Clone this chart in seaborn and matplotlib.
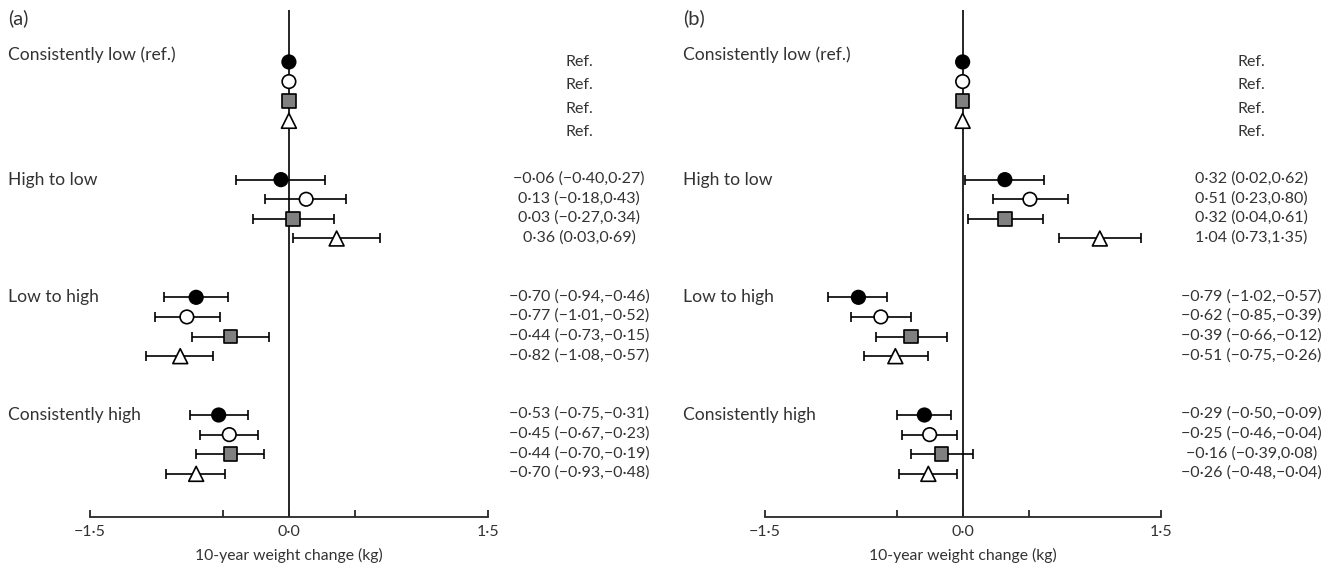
import numpy as np
import pandas as pd
import matplotlib
matplotlib.use("Agg")
import matplotlib.pyplot as plt
import seaborn as sns

# ---------------- data ----------------
groups = ["Consistently low (ref.)", "High to low", "Low to high", "Consistently high"]
series = ["S1", "S2", "S3", "S4"]   # filled circle, open circle, grey square, open triangle

# panel (a): estimate, lower CI, upper CI  (rows: group x series); first group is reference
a_est = [[0, 0, 0, 0], [-0.06, 0.13, 0.03, 0.36], [-0.70, -0.77, -0.44, -0.82], [-0.53, -0.45, -0.44, -0.70]]
a_lo = [[0, 0, 0, 0], [-0.40, -0.18, -0.27, 0.03], [-0.94, -1.01, -0.73, -1.08], [-0.75, -0.67, -0.70, -0.93]]
a_hi = [[0, 0, 0, 0], [0.27, 0.43, 0.34, 0.69], [-0.46, -0.52, -0.15, -0.57], [-0.31, -0.23, -0.19, -0.48]]

# panel (b)
b_est = [[0, 0, 0, 0], [0.32, 0.51, 0.32, 1.04], [-0.79, -0.62, -0.39, -0.51], [-0.29, -0.25, -0.16, -0.26]]
b_lo = [[0, 0, 0, 0], [0.02, 0.23, 0.04, 0.73], [-1.02, -0.85, -0.66, -0.75], [-0.50, -0.46, -0.39, -0.48]]
b_hi = [[0, 0, 0, 0], [0.62, 0.80, 0.61, 1.35], [-0.57, -0.39, -0.12, -0.26], [-0.09, -0.04, 0.08, -0.04]]

panel_labels = ["(a)", "(b)"]
tick_values = [-1.5, -0.5, 0.0, 0.5, 1.5]
tick_labels = ["\u22121\u00b75", "", "0\u00b70", "", "1\u00b75"]
x_label = "10-year weight change (kg)"

# ---------------- style ----------------
sns.set_theme(style="white")
plt.rcParams["font.family"] = ["Lato", "DejaVu Sans"]
TXT = "#333333"
LINE = "#262626"

markers = {"S1": "o", "S2": "o", "S3": "s", "S4": "^"}
palette = {"S1": "black", "S2": "white", "S3": "#808080", "S4": "white"}
sizes = {"S1": 95, "S2": 95, "S3": 95, "S4": 115}


def fmt(v):
    return f"{v:.2f}".replace(".", "\u00b7").replace("-", "\u2212")


fig = plt.figure(figsize=(13.32, 5.70), dpi=100)
axes_pos = [[0.0, 0.093, 0.4955, 0.8895], [0.5068, 0.093, 0.4932, 0.8895]]

for p, (est, lo, hi) in enumerate([(a_est, a_lo, a_hi), (b_est, b_lo, b_hi)]):
    ax = fig.add_axes(axes_pos[p])
    rows = []
    for g in range(len(groups)):
        for i, s in enumerate(series):
            rows.append({"group": g, "series": s, "row": 6 * g + i,
                         "est": est[g][i], "lo": lo[g][i], "hi": hi[g][i]})
    df = pd.DataFrame(rows)

    # vertical reference line
    ax.axvline(0, color=LINE, lw=1.4, zorder=1)

    # error bars (not for reference group)
    d = df[df.group > 0]
    ax.errorbar(d.est, d.row, xerr=[d.est - d.lo, d.hi - d.est], fmt="none",
                ecolor="black", elinewidth=1.2, capsize=3.8, capthick=1.2, zorder=2)

    sns.scatterplot(data=df, x="est", y="row", hue="series", style="series",
                    size="series", sizes=sizes,
                    markers=markers, palette=palette, edgecolor="black",
                    linewidth=1.2, legend=False, zorder=3, ax=ax)

    # group labels
    for g, name in enumerate(groups):
        yy = 6 * g - (0.35 if g == 0 else 0.0)
        ax.text(0.012, yy, name, transform=ax.get_yaxis_transform(), ha="left",
                va="center", fontsize=12.6, color=TXT)

    # estimate text column
    for _, r in df.iterrows():
        if r.group == 0:
            txt = "Ref."
            yy = r.row * 1.19
        else:
            txt = f"{fmt(r.est)} ({fmt(r.lo)},{fmt(r.hi)})"
            yy = r.row - 0.05
        ax.text(2.19, yy, txt, ha="center", va="center", fontsize=11.5, color=TXT)

    ax.set_xlim(-2.18, 2.80)
    ax.set_ylim(23.2, -2.65)
    ax.set_xlabel("")
    ax.set_ylabel("")
    ax.set_yticks([])
    for side in ["top", "right", "left"]:
        ax.spines[side].set_visible(False)
    ax.spines["bottom"].set_bounds(-1.5, 1.5)
    ax.spines["bottom"].set_color(LINE)
    ax.spines["bottom"].set_linewidth(1.3)
    ax.set_xticks(tick_values)
    ax.set_xticklabels(tick_labels)
    ax.tick_params(axis="x", direction="in", length=5, width=1.3, color=LINE,
                   pad=6, labelsize=11.5, labelcolor=TXT, bottom=True)
    ax.text(0, -0.075, x_label, transform=ax.get_xaxis_transform(), ha="center",
            va="center", fontsize=11.3, color=TXT)
    ax.patch.set_alpha(0)

    fig.text(axes_pos[p][0] + 8 / 1332, 1 - 18 / 570, panel_labels[p], ha="left",
             va="center", fontsize=14.5, color=TXT)

fig.savefig("out.png", dpi=100)
